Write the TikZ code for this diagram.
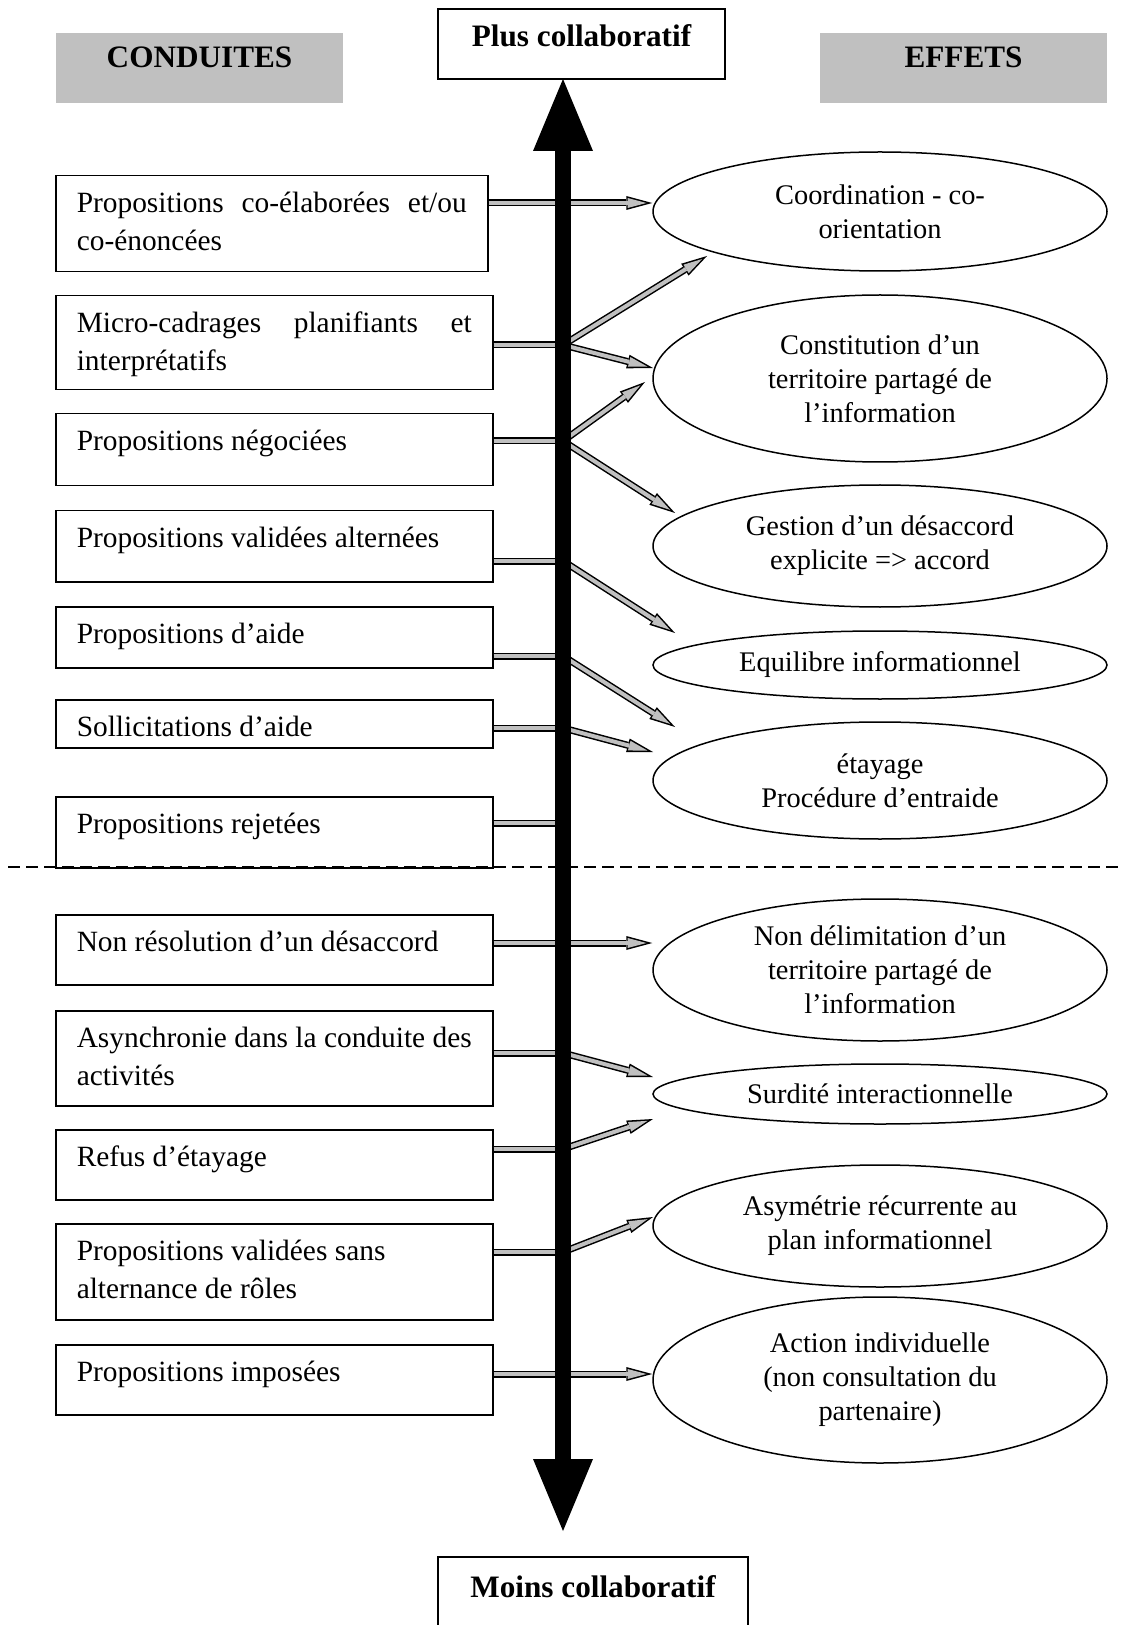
\documentclass[tikz,border=0pt]{standalone}
\usepackage{fontspec}
\setmainfont{Liberation Serif}
\usetikzlibrary{arrows.meta,shapes.geometric,calc}
\definecolor{grisclair}{HTML}{C0C0C0}
\tikzset{>=stealth,
	conduite/.style={% rectangles de gauche, texte en haut a gauche
		draw, line width=.75pt,
		anchor=north west,
		text width=197.5pt,
		inner xsep=10.5pt,
		inner ysep=5.5pt,
		text height=13pt,
		text depth=#1,
		align=flush left,
		font=\fontsize{14.7}{18.75}\selectfont
	},
	effet/.style={
		draw, line width=.75pt,
		shape=ellipse,
		minimum width=227pt,
		minimum height=#1,
		inner sep=0pt,
		text width=160pt,
		align=flush center,
		font=\fontsize{14.2}{17}\selectfont
	},
	titre/.style={
		minimum height=35pt,
		inner sep=0pt,
		font=\fontsize{15.6}{18}\selectfont\bfseries
	},
	barre/.style={
		line width=3.5pt,
		postaction={draw=grisclair, line width=2pt}
	},
	fleche/.style={
		line width=3.5pt,
		-{Triangle[length=13pt,width=7pt,line width=0pt]},
		postaction={draw=grisclair, line width=2pt, shorten >=2.9pt,
			-{Triangle[length=9.4pt,width=5pt,line width=0pt]}}
	},
	axe/.style={
		line width=8pt,
		{Triangle[length=36pt,width=30pt,line width=0pt]}-{Triangle[length=36pt,width=30pt,line width=0pt]}
	}
}

\begin{document}
\begin{tikzpicture}[x=.5pt,y=-.5pt]
	\useasboundingbox (0,0) rectangle (1123,1625);
	
	\node (conduites) [titre, fill=grisclair, minimum width=143.5pt, text height=6pt, text depth=6pt] at (199.5,68) {CONDUITES};
	\node (effets) [titre, fill=grisclair, minimum width=143.5pt, text height=6pt, text depth=6pt] at (963.5,68) {EFFETS};
	\node (plus) [titre, draw, line width=.8pt, minimum width=143.5pt, text height=9pt, text depth=6pt] at (581.5,44) {Plus collaboratif};
	\node (moins) [titre, draw, line width=.8pt, minimum width=155pt, text height=8.5pt, text depth=3.5pt] at (593,1592) {Moins collaboratif};
	
	\node (c1) [conduite=24pt, text width=195pt] at (55,175) {Propositions\hfill co-élaborées\hfill et/ou\\co-énoncées};
	\node (c2) [conduite=23pt] at (55,295) {Micro-cadrages\hfill planifiants\hfill et\\interprétatifs};
	\node (c3) [conduite=12pt] at (55,413) {Propositions négociées};
	\node (c4) [conduite=11.5pt] at (55,510) {Propositions validées alternées};
	\node (c5) [conduite=6.5pt] at (55,606) {Propositions d’aide};
	\node (c6) [conduite=0pt] at (55,699) {Sollicitations d’aide};
	\node (c7) [conduite=11.5pt] at (55,796) {Propositions rejetées};
	\node (c8) [conduite=11pt] at (55,914) {Non résolution d’un désaccord};
	\node (c9) [conduite=23.5pt] at (55,1010) {Asynchronie dans la conduite des\\activités};
	\node (c10) [conduite=11pt] at (55,1129) {Refus d’étayage};
	\node (c11) [conduite=24pt] at (55,1223) {Propositions validées sans\\alternance de rôles};
	\node (c12) [conduite=11pt] at (55,1344) {Propositions imposées};
	
	\node (e1) [effet=59.5pt] at (880,211.5) {Coordination - co-\\orientation};
	\node (e2) [effet=83.5pt] at (880,378.5) {Constitution d’un\\territoire partagé de\\l’information};
	\node (e3) [effet=61pt] at (880,546) {Gestion d’un désaccord\\explicite => accord};
	\node (e4) [effet=34pt] at (880,665) {Equilibre informationnel};
	\node (e5) [effet=58.5pt] at (880,780.5) {étayage\\Procédure d’entraide};
	\node (e6) [effet=71pt] at (880,970) {Non délimitation d’un\\territoire partagé de\\l’information};
	\node (e7) [effet=30pt] at (880,1094) {Surdité interactionnelle};
	\node (e8) [effet=61pt] at (880,1226) {Asymétrie récurrente au\\plan informationnel};
	\node (e9) [effet=83pt] at (880,1380) {Action individuelle\\(non consultation du\\partenaire)};
	
	% Separation
	\draw[line width=1.4pt, dash pattern=on 6pt off 3pt] (8,867) -- (1123,867);
	
	\foreach \n/\y in {1/203,2/345,3/441,4/561,5/656,6/728,7/823,8/943,9/1053,10/1149,11/1252,12/1374}
		\coordinate (j\n) at (563,\y);
	\foreach \n in {1,...,12}
		\draw[barre] (c\n.east |- j\n) -- (j\n);
	
	\coordinate (t2) at (707,256);
	\coordinate (t3) at (653,368);
	\coordinate (t4) at (645,382);
	\coordinate (t5) at (675,513);
	\coordinate (t6) at (675,633);
	\coordinate (t7) at (675,727);
	\coordinate (t8) at (653,752);
	\coordinate (t10) at (653,1077);
	\coordinate (t11) at (653,1119);
	\coordinate (t12) at (653,1217);
	
	\draw[fleche] (j1) -- (j1 -| e1.west);
	\draw[fleche] (j2) -- (t2);
	\draw[fleche] (j2) -- (t3);
	\draw[fleche] (j3) -- (t4);
	\draw[fleche] (j3) -- (t5);
	\draw[fleche] (j4) -- (t6);
	\draw[fleche] (j5) -- (t7);
	\draw[fleche] (j6) -- (t8);
	\draw[fleche] (j8) -- (j8 -| e6.west);
	\draw[fleche] (j9) -- (t10);
	\draw[fleche] (j10) -- (t11);
	\draw[fleche] (j11) -- (t12);
	\draw[fleche] (j12) -- (j12 -| e9.west);
	
	\coordinate (haut) at (563,79);
	\coordinate (bas) at (563,1531);
	\draw[axe] (haut) -- (bas);
\end{tikzpicture}
\end{document}
